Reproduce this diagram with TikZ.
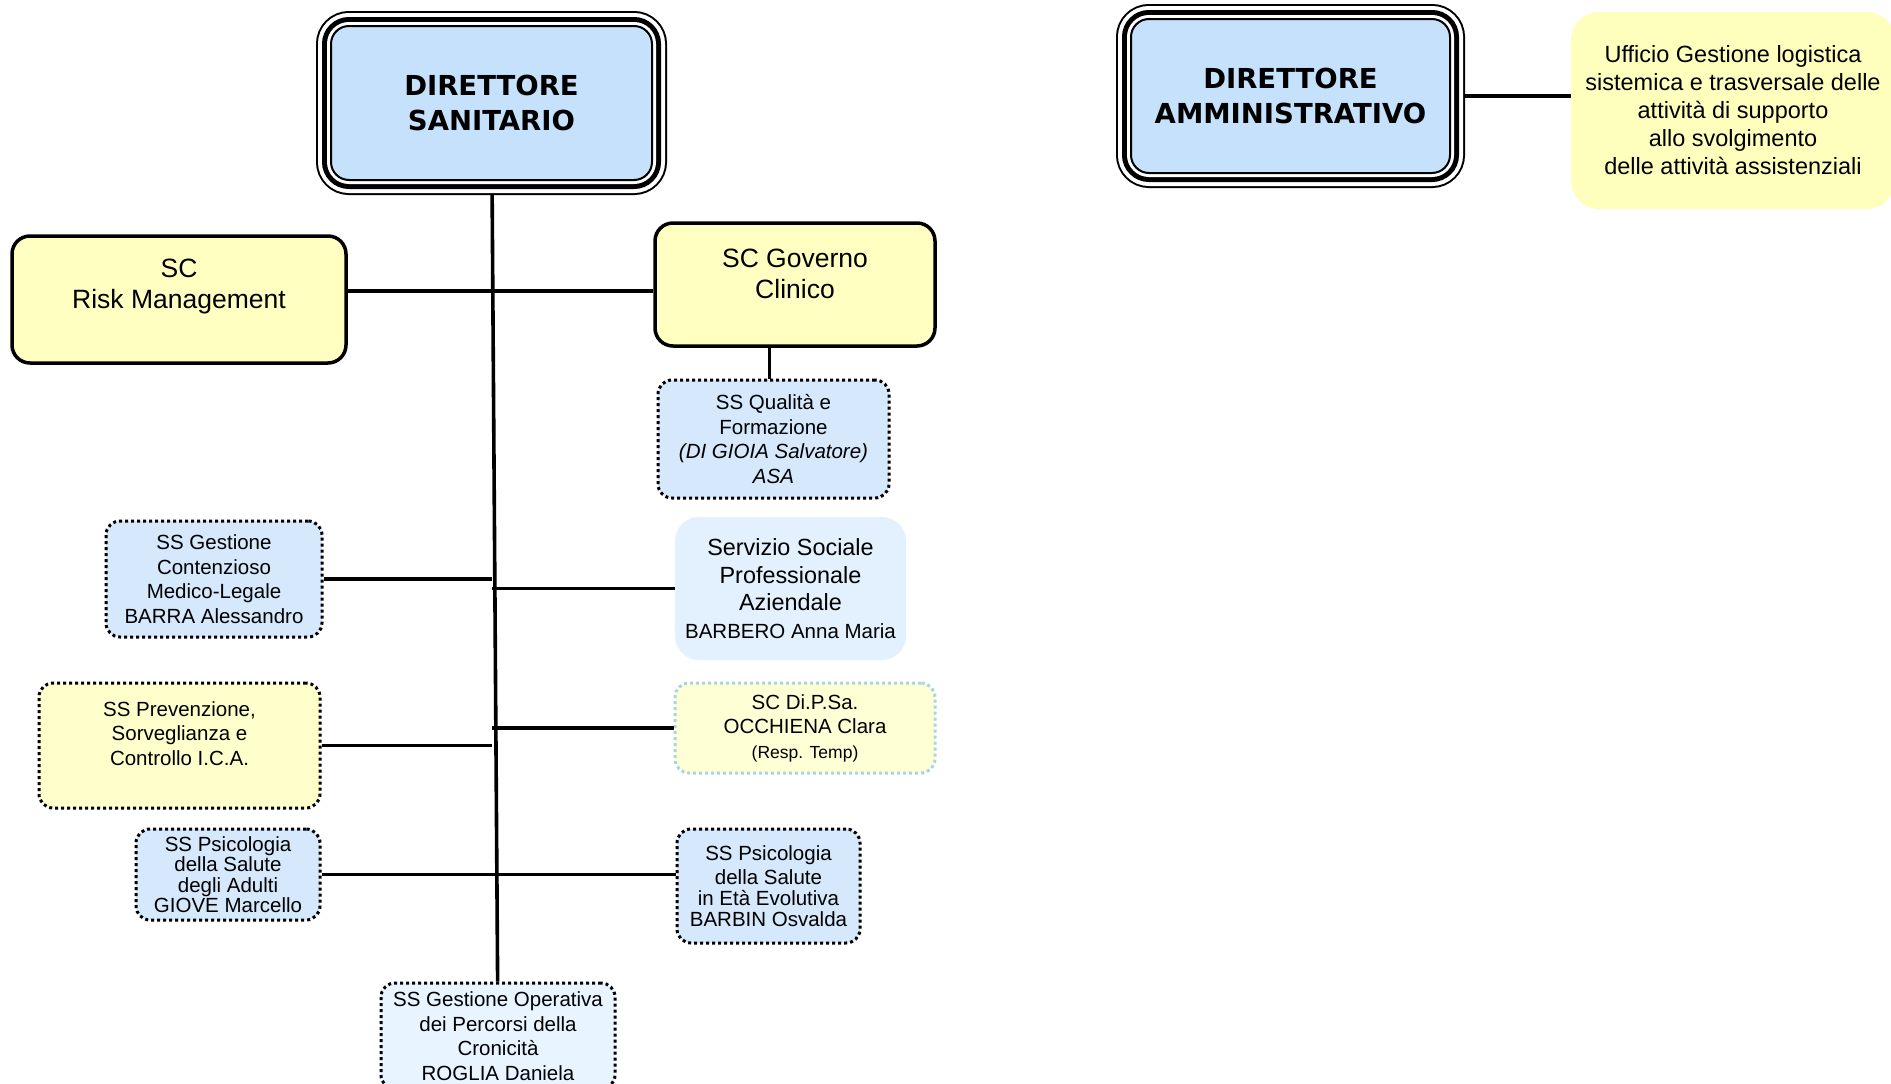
\documentclass[tikz,border=0pt]{standalone}
\usepackage{fontspec}
\setmainfont{Liberation Sans}
\newfontfamily\headfont{DejaVu Sans}

\definecolor{dirblue}{RGB}{197,225,251}
\definecolor{scyellow}{RGB}{255,255,193}
\definecolor{ufyellow}{RGB}{255,255,189}
\definecolor{ssblue}{RGB}{213,232,252}
\definecolor{socblue}{RGB}{227,240,253}
\definecolor{goblue}{RGB}{232,244,255}
\definecolor{dipyellow}{RGB}{255,255,214}
\definecolor{dipline}{RGB}{166,214,228}
\definecolor{prevyellow}{RGB}{255,255,204}

\begin{document}
\begin{tikzpicture}[x=1pt,y=-1pt,
    dir/.style={fill=dirblue,draw=black,line width=2pt,rounded corners=18pt,
      outer sep=15pt,inner sep=0pt,align=center,
      font=\headfont\bfseries\fontsize{27.5}{34.5}\selectfont,
      preaction={draw=black,line width=30pt},
      preaction={draw=white,line width=26pt},
      preaction={draw=black,line width=18pt},
      preaction={draw=white,line width=8pt}},
    sc/.style={fill=scyellow,draw=black,line width=3.5pt,rounded corners=18pt,
      inner sep=0pt,align=center,font=\fontsize{26.5}{31}\selectfont},
    ss/.style={fill=ssblue,draw=black,line width=3pt,dash pattern=on 3pt off 3pt,
      rounded corners=14pt,inner sep=0pt,align=center,
      font=\fontsize{20.5}{24.5}\selectfont},
    softbox/.style={draw=none,rounded corners=24pt,inner sep=0pt,align=center}]
  \clip (0,0) rectangle (1891,1084);
  \draw
    (491.5,103) node[dir,minimum width=321pt,minimum height=154pt] (0){DIRETTORE\\SANITARIO}
    (1290.5,96) node[dir,minimum width=319pt,minimum height=154pt] (1){DIRETTORE\\AMMINISTRATIVO}
    (1733,110.5) node[softbox,fill=ufyellow,rounded corners=28pt,minimum width=324pt,minimum height=197pt,
      font=\fontsize{23.5}{28}\selectfont] (2){Ufficio Gestione logistica\\sistemica e trasversale delle\\attività di supporto\\allo svolgimento\\delle attività assistenziali}
    (179,299.5) node[sc,minimum width=334pt,minimum height=127pt] (3){SC\\Risk Management\\~}
    (795,284.5) node[sc,minimum width=280pt,minimum height=123pt] (4){SC Governo\\Clinico\\[-9pt]~}
    (773.5,439) node[ss,minimum width=231pt,minimum height=118pt] (5){SS Qualità e\\Formazione\\\textit{(DI GIOIA Salvatore)}\\\textit{ASA}}
    (790.5,588.5) node[softbox,fill=socblue,minimum width=231pt,minimum height=143pt,
      font=\fontsize{23.4}{27.5}\selectfont] (6){Servizio Sociale\\Professionale\\Aziendale\\{\fontsize{20.5}{24}\selectfont BARBERO Anna Maria}}
    (214,579) node[ss,minimum width=216pt,minimum height=116pt] (7){SS Gestione\\Contenzioso\\Medico-Legale\\BARRA Alessandro}
    (179.5,745.5) node[ss,fill=prevyellow,minimum width=281pt,minimum height=125pt] (8){SS Prevenzione,\\Sorveglianza e\\Controllo I.C.A.\\~}
    (805,728) node[ss,fill=dipyellow,draw=dipline,minimum width=260pt,minimum height=90pt] (9){SC Di.P.Sa.\\OCCHIENA Clara\\{\fontsize{17.5}{21}\selectfont (Resp. Temp)}}
    (228,874.5) node[ss,minimum width=184pt,minimum height=91pt,
      font=\fontsize{20.5}{20.5}\selectfont] (10){SS Psicologia\\della Salute\\degli Adulti\\GIOVE Marcello}
    (768.5,886) node[ss,minimum width=183pt,minimum height=114pt,
      font=\fontsize{20.5}{21}\selectfont] (11){SS Psicologia\\[3pt]della Salute\\in Età Evolutiva\\BARBIN Osvalda}
    (498,1036) node[ss,fill=goblue,minimum width=234pt,minimum height=106pt] (12){SS Gestione Operativa\\dei Percorsi della\\Cronicità\\ROGLIA Daniela};
  \begin{scope}[line width=3.6pt]
    \draw (0) to (12);
    \draw (1.east) to (1.east -| 2.west);
    \draw ([yshift=8.5pt]3.east) to ([yshift=8.5pt]3.east -| 4.west);
    \draw ([xshift=-4pt]5.north |- 4.south) to ([xshift=-4pt]5.north);
    \draw (7.east) to (7.east -| 0.south);
    \draw (6.west) to (6.west -| 0.south);
    \draw (8.east) to (8.east -| 0.south);
    \draw (9.west) to (9.west -| 0.south);
    \draw (10.east) to (10.east -| 11.west);
  \end{scope}
\end{tikzpicture}
\end{document}
